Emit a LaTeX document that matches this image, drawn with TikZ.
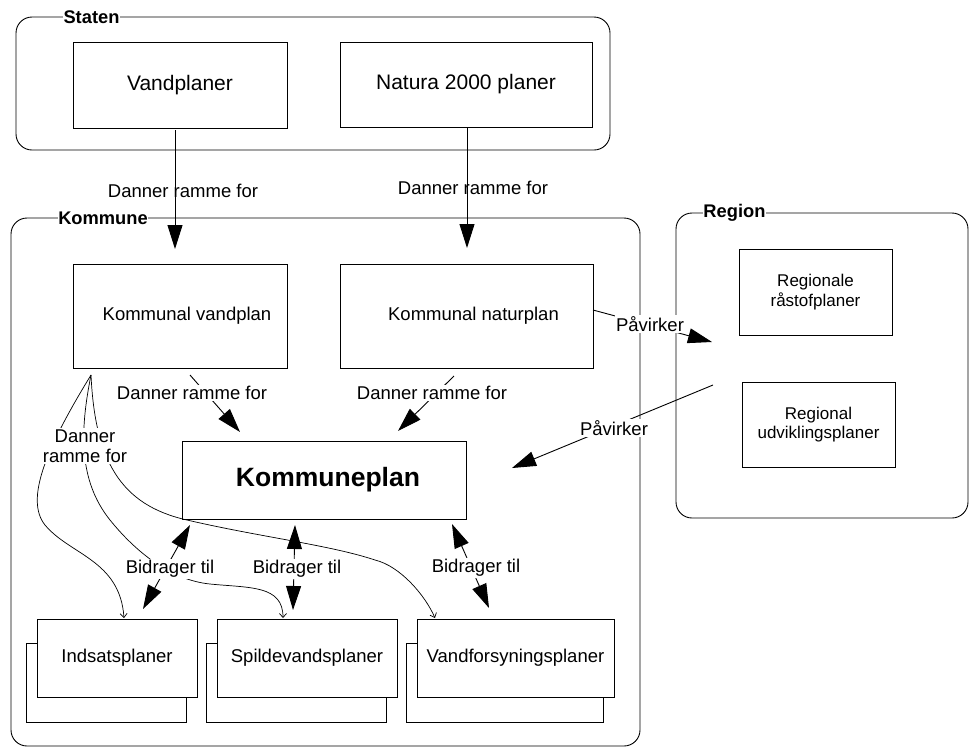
\documentclass[tikz,border=0pt]{standalone}
\usepackage{fontspec}
\setmainfont{Liberation Sans}
\usetikzlibrary{arrows.meta}
\begin{document}
\begin{tikzpicture}[x=1pt,y=-1pt, line width=0.9pt,
  container/.style={draw, rounded corners=16pt},
  ctitle/.style={font=\fontsize{18.3}{20}\selectfont\bfseries, fill=white, inner sep=0.5pt},
  plan/.style={draw, fill=white, inner sep=0pt, font=\fontsize{18.5}{20}\selectfont},
  stateplan/.style={plan, font=\fontsize{21}{24}\selectfont},
  regplan/.style={plan, align=center, font=\fontsize{17}{19.5}\selectfont},
  lbl/.style={font=\fontsize{18.5}{20}\selectfont, inner sep=1.5pt, align=center},
  lblw/.style={lbl, fill=white},
  bigarrow/.style={-{Triangle[length=24pt,width=15pt]}},
  twoway/.style={{Triangle[length=24pt,width=15pt]}-{Triangle[length=24pt,width=15pt]}},
  thinarrow/.style={line width=0.7pt, -{Straight Barb[length=4pt,width=7pt]}}
]
\useasboundingbox (0,0) rectangle (970,748);

% containers
\draw[container] (16,17) rectangle (610,150);
\draw[container] (11,218) rectangle (640,746);
\draw[container] (676,213) rectangle (968,518);
\node[ctitle] (staten) at (91.5,17) {Staten};
\node[ctitle] (kommune) at (103,218) {Kommune};
\node[ctitle] (region) at (734.5,213) {Region};

% state plans
\node[stateplan, minimum width=214pt, minimum height=86pt] (vand) at (180,85) {Vandplaner};
\node[stateplan, minimum width=252pt, minimum height=85pt] (natura) at (466,84.5) {Natura 2000 planer};

% municipal plans
\node[plan, minimum width=214pt, minimum height=104pt] (kvand) at (180,316) {\hspace*{14pt}Kommunal vandplan};
\node[plan, minimum width=253pt, minimum height=104pt] (knatur) at (466.5,316) {\hspace*{14pt}Kommunal naturplan};
\node[plan, minimum width=284pt, minimum height=78pt, font=\fontsize{26.5}{30}\selectfont\bfseries] (kplan) at (324,480) {\hspace*{8pt}Kommuneplan};

% regional plans
\node[regplan, minimum width=153pt, minimum height=86pt] (rraa) at (815.5,292) {Regionale\\råstofplaner};
\node[regplan, minimum width=153pt, minimum height=85pt] (rudv) at (818.5,424.5) {Regional\\udviklingsplaner};

% bottom stacked plans
\node[plan, minimum width=160pt, minimum height=79pt] (indb) at (106,682.5) {};
\node[plan, minimum width=160pt, minimum height=78pt] (ind) at (117,658) {Indsatsplaner};
\node[plan, minimum width=180pt, minimum height=79pt] (spb) at (296,682.5) {};
\node[plan, minimum width=180pt, minimum height=78pt] (sp) at (307,658) {Spildevandsplaner};
\node[plan, minimum width=197pt, minimum height=79pt] (vfb) at (504.5,682.5) {};
\node[plan, minimum width=197pt, minimum height=78pt] (vf) at (515.5,658) {Vandforsyningsplaner};

% coordinates
\coordinate (a1) at (175,130); \coordinate (b1) at (175,249);
\coordinate (a2) at (467,128); \coordinate (b2) at (467,248);
\coordinate (fan) at (91,375);
\coordinate (c1) at (124,618); \coordinate (c2) at (283,618); \coordinate (c3) at (435,618);
\coordinate (d1s) at (190,375); \coordinate (d1e) at (240,432);
\coordinate (d2s) at (454,376); \coordinate (d2e) at (398,431);
\coordinate (p1s) at (593,310); \coordinate (p1e) at (712,342);
\coordinate (p2s) at (713,385); \coordinate (p2e) at (512,468);
\coordinate (e1s) at (190,525); \coordinate (e1e) at (143,609);
\coordinate (e2s) at (295,525); \coordinate (e2e) at (293,610);
\coordinate (e3s) at (452,524); \coordinate (e3e) at (489,608);

% curves from Kommunal vandplan
\draw[thinarrow] (fan) .. controls (45,450) and (25,500) .. (45,525) .. controls (70,555) and (120,560) .. (c1);
\draw[thinarrow] (fan) .. controls (80,430) and (78,480) .. (110,520) .. controls (135,551) and (170,580) .. (210,584) .. controls (250,588) and (283,585) .. (c2);
\draw[thinarrow] (fan) .. controls (95,460) and (120,505) .. (187,520) .. controls (260,537) and (330,545) .. (375,560) .. controls (400,566) and (425,595) .. (c3);

% straight arrows
\draw[bigarrow] (a1) -- (b1);
\draw[bigarrow] (a2) -- (b2);
\draw[bigarrow] (d1s) -- (d1e);
\draw[bigarrow] (d2s) -- (d2e);
\draw[bigarrow] (p1s) -- (p1e);
\draw[bigarrow] (p2s) -- (p2e);
\draw[twoway] (e1s) -- (e1e);
\draw[twoway] (e2s) -- (e2e);
\draw[twoway] (e3s) -- (e3e);

% labels
\node[lbl] (l1) at (183,191) {Danner ramme for};
\node[lbl] (l2) at (473,188) {Danner ramme for};
\node[lblw] (l3) at (192,393) {Danner ramme for};
\node[lblw] (l4) at (432,393) {Danner ramme for};
\node[lblw] (lf) at (85,446) {Danner\\ramme for};
\node[lblw] (lp1) at (650,324) {Påvirker};
\node[lblw] (lp2) at (614,428) {Påvirker};
\node[lblw] (lb1) at (170,569) {Bidrager til};
\node[lblw] (lb2) at (297,569) {Bidrager til};
\node[lblw] (lb3) at (476,568) {Bidrager til};
\end{tikzpicture}
\end{document}
